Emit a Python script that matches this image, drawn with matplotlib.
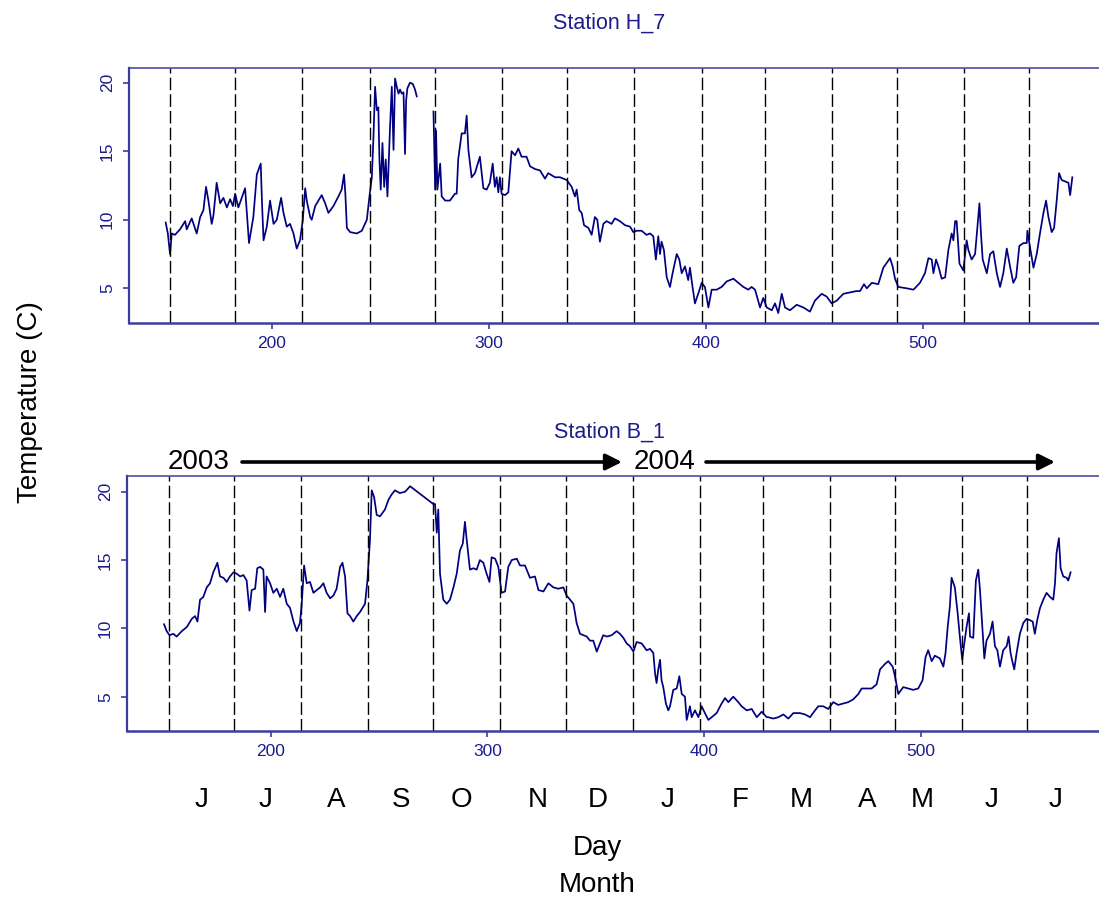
import numpy as np
import matplotlib
matplotlib.use("Agg")
import matplotlib.pyplot as plt
from matplotlib.patches import FancyArrowPatch

plt.rcParams['font.family'] = ['Liberation Sans', 'DejaVu Sans']

# ---- data (day number, temperature in C) ----
# Station H_7 (logger gap between day ~267 and ~274)
days_h7 = [151.0, 152.0, 153.0, 153.8, 155.3, 157.6, 160.0, 160.7, 163.0, 165.3,
           166.9, 168.4, 169.6, 170.7, 172.2, 173.0, 174.5, 176.1, 177.6, 179.2,
           180.7, 182.0, 183.0, 184.5, 187.6, 189.4, 191.4, 193.0, 194.8, 195.4,
           196.1, 197.6, 199.1, 200.7, 202.2, 204.2, 205.3, 206.8, 208.3, 209.9,
           211.4, 212.9, 214.2, 215.3, 216.0, 217.6, 218.3, 219.9, 222.9, 224.5,
           226.0, 228.3, 230.6, 232.1, 233.2, 233.8, 234.5, 236.0, 239.1, 241.4,
           243.7, 244.9, 246.0, 246.7, 247.5, 248.3, 249.0, 249.5, 250.1, 250.9,
           251.7, 252.4, 253.2, 254.4, 255.2, 256.0, 256.7, 257.5, 258.3, 259.0,
           259.8, 260.6, 261.3, 261.8, 262.4, 263.6, 264.9, 265.9, 266.7, 270.0,
           274.4, 275.2, 275.6, 276.2, 277.5, 278.2, 279.8, 282.0, 284.3, 285.1,
           285.8, 287.4, 288.9, 289.7, 290.5, 292.0, 293.5, 295.8, 297.4, 298.9,
           300.4, 301.7, 302.7, 303.5, 304.3, 305.0, 305.8, 307.4, 308.9, 309.7,
           310.4, 312.0, 313.5, 315.0, 317.3, 318.9, 321.2, 323.5, 325.8, 327.3,
           330.4, 332.7, 335.8, 338.1, 339.6, 340.4, 341.6, 342.7, 343.8, 345.8,
           347.3, 348.8, 349.9, 351.1, 352.7, 354.2, 356.5, 358.0, 360.3, 362.7,
           365.0, 366.5, 368.0, 370.3, 372.6, 374.2, 375.7, 376.9, 378.0, 378.8,
           379.5, 380.6, 381.9, 383.4, 384.6, 386.5, 387.7, 388.8, 390.3, 391.8,
           392.6, 393.8, 394.9, 396.4, 398.0, 399.5, 401.1, 402.6, 404.9, 407.2,
           409.5, 412.6, 414.9, 417.2, 419.5, 421.0, 422.6, 424.9, 426.4, 428.0,
           430.3, 431.8, 433.3, 434.9, 436.4, 438.7, 441.8, 444.9, 447.9, 450.2,
           453.3, 455.6, 457.9, 460.2, 463.3, 466.4, 469.4, 471.0, 472.8, 474.1,
           476.4, 479.4, 481.7, 484.8, 486.0, 487.1, 488.6, 492.5, 495.6, 498.6,
           500.9, 502.5, 504.0, 504.8, 506.0, 507.1, 508.6, 510.2, 511.7, 513.2,
           514.0, 514.8, 515.5, 516.8, 518.6, 520.1, 520.9, 522.4, 524.0, 525.1,
           526.0, 526.7, 527.5, 529.4, 530.9, 532.4, 534.0, 535.5, 537.0, 538.6,
           540.1, 541.6, 542.9, 544.4, 546.3, 547.8, 548.1, 549.3, 550.9, 552.4,
           553.9, 555.5, 556.7, 557.8, 559.3, 560.4, 561.6, 562.7, 563.9, 565.5,
           567.0, 567.8, 568.8]
temp_h7 = [9.8, 9.0, 7.5, 9.0, 8.9, 9.3, 9.9, 9.3, 10.1, 9.0,
           10.2, 10.7, 12.4, 11.4, 9.7, 10.3, 12.7, 11.2, 11.6, 10.9,
           11.5, 11.0, 11.9, 10.9, 12.3, 8.3, 10.2, 13.3, 14.1, 11.2,
           8.5, 9.5, 11.4, 9.7, 10.0, 11.6, 10.5, 9.5, 9.7, 9.0,
           7.9, 8.5, 10.0, 12.3, 11.4, 10.2, 10.0, 11.0, 11.8, 11.2,
           10.5, 11.0, 11.7, 12.2, 13.3, 11.9, 9.4, 9.1, 9.0, 9.2,
           10.0, 11.7, 13.1, 15.8, 19.7, 18.0, 18.2, 14.4, 12.2, 15.6,
           12.4, 14.4, 11.7, 16.8, 19.7, 15.1, 20.3, 19.7, 19.2, 19.5,
           19.2, 19.3, 14.8, 18.7, 19.6, 20.0, 19.9, 19.5, 19.0, np.nan,
           17.9, 12.2, 16.5, 12.2, 14.1, 11.7, 11.4, 11.4, 11.9, 11.9,
           14.4, 16.3, 16.3, 17.6, 15.1, 13.1, 13.4, 14.6, 12.3, 12.2,
           12.7, 14.1, 12.4, 13.1, 12.0, 13.1, 11.9, 11.8, 12.0, 13.6,
           15.0, 14.7, 15.2, 14.6, 14.6, 13.9, 13.7, 13.6, 13.0, 13.4,
           13.1, 13.1, 12.9, 12.4, 11.7, 12.2, 10.7, 10.5, 9.6, 9.4,
           8.9, 10.2, 10.0, 8.4, 9.7, 9.9, 9.7, 10.1, 9.9, 9.6,
           9.5, 9.1, 9.2, 9.2, 8.9, 9.0, 8.8, 7.1, 8.8, 7.5,
           8.4, 7.8, 5.8, 5.1, 6.1, 7.5, 7.1, 6.1, 6.6, 5.6,
           6.5, 5.1, 3.9, 4.6, 5.4, 5.1, 3.6, 4.9, 4.9, 5.1,
           5.5, 5.7, 5.4, 5.1, 4.9, 5.1, 4.9, 3.6, 4.3, 3.6,
           3.4, 3.9, 3.2, 4.6, 3.6, 3.4, 3.8, 3.6, 3.3, 4.1,
           4.6, 4.4, 3.9, 4.1, 4.6, 4.7, 4.8, 4.8, 5.3, 5.0,
           5.4, 5.3, 6.5, 7.2, 6.6, 5.7, 5.1, 5.0, 4.9, 5.4,
           6.1, 7.2, 7.1, 6.1, 7.1, 6.6, 5.7, 5.8, 7.8, 9.0,
           8.5, 9.9, 9.9, 6.8, 6.3, 8.5, 7.8, 7.1, 7.5, 9.5,
           11.2, 9.0, 7.1, 6.1, 7.5, 7.7, 6.1, 5.1, 6.1, 7.9,
           6.6, 5.4, 5.8, 8.1, 8.3, 8.3, 9.2, 8.0, 6.5, 7.5,
           9.0, 10.5, 11.4, 10.2, 9.1, 9.4, 11.4, 13.4, 12.9, 12.8,
           12.7, 11.8, 13.1]

# Station B_1
days_b1 = [150.8, 152.0, 153.3, 155.1, 156.6, 159.0, 161.3, 163.6, 165.1, 166.2,
           167.4, 168.9, 170.5, 172.0, 173.5, 175.4, 176.6, 178.2, 179.7, 181.2,
           182.8, 184.3, 185.9, 187.4, 188.9, 190.2, 191.2, 192.8, 193.8, 195.1,
           196.6, 197.4, 198.1, 199.7, 201.2, 202.8, 204.3, 205.8, 207.4, 208.9,
           210.5, 212.0, 213.5, 214.3, 215.4, 216.6, 218.1, 219.7, 221.2, 222.8,
           224.3, 225.8, 227.4, 228.9, 230.4, 232.0, 233.1, 234.3, 235.4, 236.6,
           238.1, 239.7, 241.2, 243.5, 244.6, 245.8, 246.6, 247.7, 248.9, 250.4,
           252.7, 254.3, 255.8, 257.3, 259.6, 262.0, 264.3, 275.0, 275.8, 276.6,
           277.3, 278.1, 278.9, 279.6, 281.2, 282.7, 284.3, 285.8, 287.3, 288.6,
           289.6, 290.4, 291.9, 293.5, 295.0, 296.5, 298.1, 299.6, 300.9, 301.9,
           303.5, 305.0, 306.5, 308.1, 309.6, 311.2, 313.5, 315.0, 317.3, 319.6,
           321.9, 323.5, 325.8, 328.1, 330.4, 332.7, 335.0, 336.5, 338.1, 339.6,
           340.4, 341.1, 342.7, 345.8, 347.3, 348.8, 350.4, 351.9, 353.4, 355.0,
           357.3, 359.6, 361.1, 362.7, 364.2, 365.7, 367.3, 368.8, 371.1, 373.4,
           375.0, 376.5, 377.3, 378.0, 378.8, 379.6, 380.3, 381.1, 382.3, 383.4,
           384.2, 385.7, 387.3, 388.5, 389.6, 391.1, 391.9, 393.4, 394.2, 395.7,
           397.3, 398.8, 400.3, 401.9, 403.4, 405.7, 408.0, 409.6, 411.1, 413.4,
           415.7, 417.2, 419.6, 421.9, 424.2, 426.5, 428.8, 429.5, 431.8, 434.2,
           436.5, 438.8, 441.1, 444.1, 446.5, 448.8, 451.1, 452.6, 454.9, 457.2,
           459.5, 461.8, 464.1, 466.4, 468.7, 471.1, 472.6, 474.9, 477.2, 479.5,
           481.1, 483.4, 484.9, 486.9, 488.0, 489.5, 491.8, 494.1, 496.4, 498.7,
           500.7, 502.1, 503.3, 504.9, 506.4, 508.7, 510.3, 511.3, 512.3, 513.3,
           514.1, 515.6, 516.9, 517.9, 519.0, 519.8, 521.0, 522.1, 522.6, 524.1,
           525.3, 526.4, 527.2, 528.3, 529.2, 530.2, 531.8, 533.0, 534.1, 535.2,
           536.4, 537.9, 539.5, 540.4, 541.3, 542.1, 543.0, 544.1, 545.6, 547.2,
           548.7, 550.2, 551.5, 552.5, 553.6, 554.9, 556.4, 557.9, 559.5, 561.0,
           561.8, 562.5, 563.6, 564.4, 565.6, 567.2, 567.9, 569.0]
temp_b1 = [10.3, 9.8, 9.5, 9.6, 9.4, 9.8, 10.1, 10.7, 10.9, 10.5,
           12.1, 12.3, 13.0, 13.3, 14.1, 14.8, 13.8, 13.7, 13.4, 13.8,
           14.1, 14.0, 13.8, 13.9, 13.5, 11.3, 12.8, 12.9, 14.4, 14.5,
           14.3, 11.2, 13.8, 13.3, 12.6, 12.9, 12.3, 12.9, 11.8, 11.5,
           10.5, 9.8, 10.4, 11.8, 14.6, 13.3, 13.4, 12.6, 12.8, 13.0,
           13.3, 12.6, 12.2, 12.4, 12.9, 14.5, 14.8, 13.8, 11.1, 10.9,
           10.5, 10.9, 11.2, 11.8, 13.5, 16.5, 20.1, 19.6, 18.3, 18.2,
           18.7, 19.4, 19.8, 20.1, 19.9, 20.0, 20.4, 19.1, 19.1, 17.0,
           18.7, 14.0, 13.0, 12.1, 11.8, 12.1, 13.0, 14.0, 15.7, 16.2,
           17.8, 16.5, 14.3, 14.4, 14.3, 15.0, 14.8, 14.0, 13.4, 15.2,
           15.1, 14.5, 12.6, 12.7, 14.5, 15.0, 15.1, 14.6, 14.6, 13.7,
           13.8, 12.8, 12.7, 13.3, 13.0, 12.9, 13.0, 12.4, 12.1, 11.8,
           11.1, 10.4, 9.6, 9.4, 9.1, 9.1, 8.3, 8.9, 9.5, 9.4,
           9.5, 9.8, 9.6, 9.3, 8.9, 8.7, 8.3, 9.0, 8.9, 8.4,
           8.5, 8.2, 6.7, 6.0, 7.0, 7.7, 6.2, 5.7, 4.5, 4.0,
           4.3, 5.5, 5.6, 6.5, 5.2, 5.0, 3.3, 4.3, 3.5, 4.0,
           3.5, 4.3, 3.8, 3.3, 3.5, 3.8, 4.5, 4.9, 4.6, 5.0,
           4.6, 4.3, 4.0, 4.1, 3.5, 3.9, 3.5, 3.5, 3.4, 3.5,
           3.7, 3.4, 3.8, 3.8, 3.7, 3.5, 4.0, 4.3, 4.3, 4.1,
           4.6, 4.4, 4.5, 4.6, 4.8, 5.2, 5.6, 5.6, 5.6, 5.9,
           7.0, 7.4, 7.6, 7.2, 6.5, 5.2, 5.7, 5.6, 5.5, 5.6,
           6.2, 7.9, 8.4, 7.6, 8.0, 7.8, 7.2, 8.2, 10.1, 11.6,
           13.7, 13.0, 11.1, 9.4, 7.7, 8.7, 10.1, 11.1, 9.4, 9.3,
           13.5, 14.3, 12.8, 10.1, 7.8, 9.1, 9.6, 10.5, 8.7, 8.4,
           7.2, 8.4, 8.7, 9.4, 8.2, 7.6, 7.0, 8.2, 9.6, 10.4,
           10.7, 10.6, 10.5, 9.6, 10.6, 11.5, 12.1, 12.6, 12.3, 12.1,
           13.3, 15.5, 16.6, 14.4, 13.8, 13.7, 13.5, 14.1]

month_starts = [153, 183, 214, 245, 275, 306, 336, 367, 398, 427, 458, 488, 519, 549]
month_letters = ['J', 'J', 'A', 'S', 'O', 'N', 'D', 'J', 'F', 'M', 'A', 'M', 'J', 'J']
month_label_px = [202, 266, 336, 401, 461, 538, 598, 668, 740, 801, 867, 922, 992, 1056]
year_labels = ['2003', '2004']

# ---- layout ----
W, H = 1099, 897
fig = plt.figure(figsize=(W / 100, H / 100), dpi=100)

def fx(px):
    return px / W

def fy(py):
    return 1 - py / H

line_col = '#000080'
axis_col = '#3c3ca0'
text_col = '#1c1c8c'

def make_panel(rect_px, xlim, ylim, days, temps, title, title_y):
    l, t, r, b = rect_px
    ax = fig.add_axes([fx(l), fy(b), fx(r) - fx(l), (b - t) / H])
    ax.plot(days, temps, color=line_col, lw=1.25)
    for d in month_starts:
        ax.axvline(d, color='black', lw=1.0, ls=(0, (9, 3)))
    ax.set_xlim(*xlim)
    ax.set_ylim(*ylim)
    ax.set_xticks([200, 300, 400, 500])
    ax.set_yticks([5, 10, 15, 20])
    for side in ['left', 'bottom', 'top']:
        ax.spines[side].set_color(axis_col)
    ax.spines['left'].set_linewidth(1.6)
    ax.spines['bottom'].set_linewidth(1.8)
    ax.spines['top'].set_linewidth(1.1)
    ax.spines['right'].set_visible(False)
    ax.tick_params(colors=axis_col, labelcolor=text_col, labelsize=12.5,
                   length=4, width=1.2)
    ax.tick_params(axis='y', labelrotation=90, pad=6)
    ax.tick_params(axis='x', pad=5)
    for lab in ax.get_yticklabels():
        lab.set_va('center')
    fig.text(fx(609), fy(title_y), title, color=text_col, fontsize=15.5,
             ha='center', va='baseline')
    return ax

ax1 = make_panel((129, 68, 1099, 323), (134.1, 581.1), (2.47, 21.07),
                 days_h7, temp_h7, 'Station H_7', 29)
ax2 = make_panel((127, 476, 1099, 731), (133.7, 582.1), (2.49, 21.15),
                 days_b1, temp_b1, 'Station B_1', 438)

# year arrows above lower panel
fig.text(fx(168), fy(462), year_labels[0], fontsize=20, ha='left', va='center')
fig.text(fx(634), fy(462), year_labels[1], fontsize=20, ha='left', va='center')
for x0, x1 in [(242, 622), (706, 1055)]:
    arr = FancyArrowPatch((fx(x0), fy(462)), (fx(x1), fy(462)),
                          transform=fig.transFigure, arrowstyle='-|>',
                          mutation_scale=24, lw=2.6, color='black',
                          shrinkA=0, shrinkB=0)
    fig.add_artist(arr)

# month letters and axis titles
for lab, px in zip(month_letters, month_label_px):
    fig.text(fx(px), fy(807), lab, fontsize=20, ha='center', va='baseline')
fig.text(fx(597), fy(855), 'Day', fontsize=20, ha='center', va='baseline')
fig.text(fx(597), fy(892), 'Month', fontsize=20, ha='center', va='baseline')
fig.text(fx(30), fy(402), 'Temperature (C)', fontsize=20, rotation=90,
         ha='center', va='center')

fig.savefig('out.png', dpi=100)
